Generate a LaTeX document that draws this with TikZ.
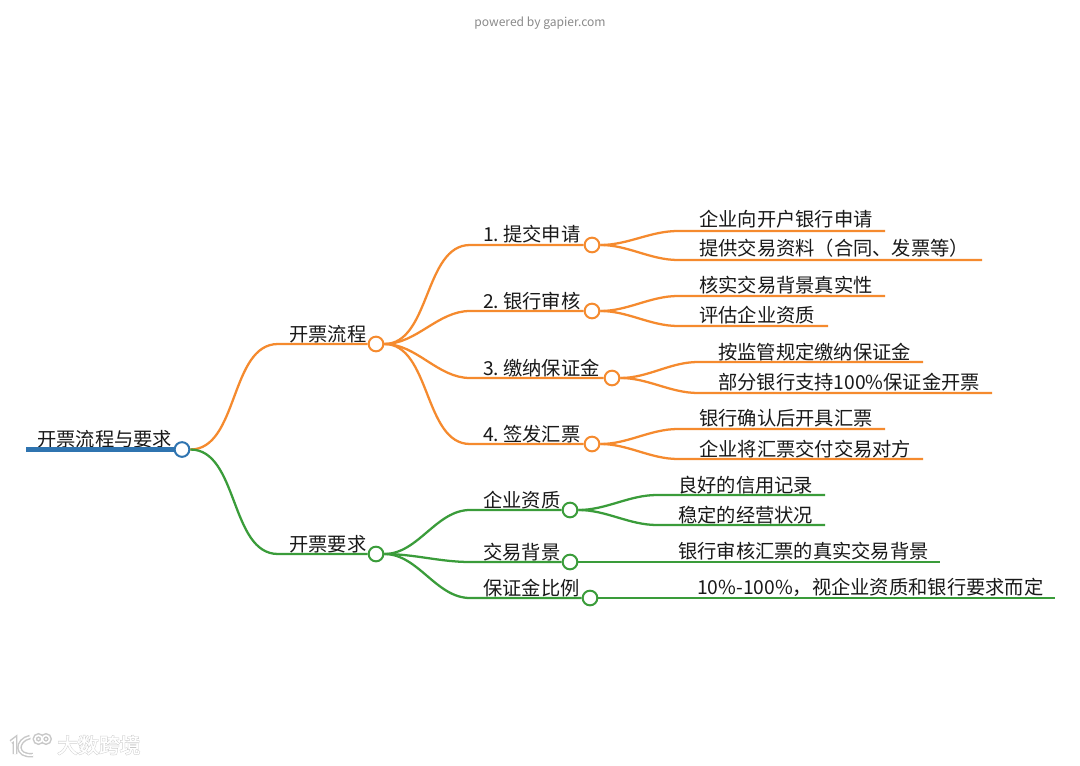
\documentclass[tikz,border=0pt]{standalone}
\usepackage{fontspec}
\setmainfont{Noto Sans CJK SC}
\newfontfamily\markfont[FakeBold=5]{Noto Sans CJK SC}
\newfontfamily\markinner[FakeBold=1]{Noto Sans CJK SC}
\definecolor{rootblue}{HTML}{2F74B0}
\definecolor{flowline}{HTML}{F58A2E}
\definecolor{needline}{HTML}{3A9C3A}
\definecolor{markgrey}{HTML}{C8C8C8}
\definecolor{powergrey}{HTML}{8A8A8A}

\begin{document}
\begin{tikzpicture}[
  x=0.75pt, y=-0.75pt,
  knob/.style={draw, circle, fill=white, minimum size=11pt, inner sep=0pt, line width=1.5pt},
  label/.style={anchor=base west, inner sep=0pt, font=\fontsize{14.45pt}{16pt}\selectfont, text=black!90},
  flow/.style={draw=flowline, line width=1.7pt},
  need/.style={draw=needline, line width=1.7pt},
  branch/.style={out=0, in=180, looseness=0.9},
]
  \useasboundingbox (0,0) rectangle (1080,766);
  \fill[white] (0,0) rectangle (1080,766);

  \node[anchor=center, inner sep=0pt, font=\fontsize{9.05pt}{12pt}\selectfont, text=powergrey] (power) at (540,23) {powered by gapier.com};

  % root
  \node[label] (roottext) at (37,446) {开票流程与要求};
  \coordinate (rootstart) at (26,449.5);
  \node[knob, draw=rootblue] (root) at (182,449.5) {};
  \draw[rootblue, line width=3.8pt] (rootstart) -- (root.west);

  % main branches
  \node[label] (flowtext) at (289,341) {开票流程};
  \node[knob, draw=flowline] (flow) at (376,344) {};
  \coordinate (flowbend) at (278,344);
  \draw[flow] (root.east) to[branch] (flowbend) -- (flow.west);

  \node[label] (needtext) at (289,551) {开票要求};
  \node[knob, draw=needline] (need) at (376,554) {};
  \coordinate (needbend) at (278,554);
  \draw[need] (root.east) to[branch] (needbend) -- (need.west);

  % invoice steps
  \node[label] (subtext) at (483,242) {1.\hspace{3pt}提交申请};
  \node[knob, draw=flowline] (sub) at (592,245) {};
  \coordinate (subbend) at (470,245);
  \draw[flow] (flow.east) to[branch] (subbend) -- (sub.west);

  \node[label] (revtext) at (483,308) {2.\hspace{3pt}银行审核};
  \node[knob, draw=flowline] (rev) at (592,311) {};
  \coordinate (revbend) at (470,311);
  \draw[flow] (flow.east) to[branch] (revbend) -- (rev.west);

  \node[label] (paytext) at (483,375) {3.\hspace{3pt}缴纳保证金};
  \node[knob, draw=flowline] (pay) at (612,378) {};
  \coordinate (paybend) at (470,378);
  \draw[flow] (flow.east) to[branch] (paybend) -- (pay.west);

  \node[label] (signtext) at (483,441) {4.\hspace{3pt}签发汇票};
  \node[knob, draw=flowline] (sign) at (592,444) {};
  \coordinate (signbend) at (470,444);
  \draw[flow] (flow.east) to[branch] (signbend) -- (sign.west);

  % requirement groups
  \node[label] (firmtext) at (483,507) {企业资质};
  \node[knob, draw=needline] (firm) at (570,510) {};
  \coordinate (firmbend) at (470,510);
  \draw[need] (need.east) to[branch] (firmbend) -- (firm.west);

  \node[label] (tradetext) at (483,559) {交易背景};
  \node[knob, draw=needline] (trade) at (570,562) {};
  \coordinate (tradebend) at (470,562);
  \draw[need] (need.east) to[branch] (tradebend) -- (trade.west);

  \node[label] (ratiotext) at (483,595) {保证金比例};
  \node[knob, draw=needline] (ratio) at (590,598) {};
  \coordinate (ratiobend) at (470,598);
  \draw[need] (need.east) to[branch] (ratiobend) -- (ratio.west);

  % leaves of the steps
  \node[label] (subatext) at (699,227) {企业向开户银行申请};
  \coordinate (subabend) at (678,231);
  \coordinate (subaend) at (885,231);
  \draw[flow] (sub.east) to[branch] (subabend) -- (subaend);
  \node[label] (subbtext) at (699,256) {提供交易资料（合同、发票等）};
  \coordinate (subbbend) at (678,260);
  \coordinate (subbend2) at (982,260);
  \draw[flow] (sub.east) to[branch] (subbbend) -- (subbend2);

  \node[label] (revatext) at (699,292) {核实交易背景真实性};
  \coordinate (revabend) at (678,296);
  \coordinate (revaend) at (885,296);
  \draw[flow] (rev.east) to[branch] (revabend) -- (revaend);
  \node[label] (revbtext) at (699,322) {评估企业资质};
  \coordinate (revbbend) at (678,326);
  \coordinate (revbend2) at (828,326);
  \draw[flow] (rev.east) to[branch] (revbbend) -- (revbend2);

  \node[label] (payatext) at (718,359) {按监管规定缴纳保证金};
  \coordinate (payabend) at (698,362);
  \coordinate (payaend) at (923,362);
  \draw[flow] (pay.east) to[branch] (payabend) -- (payaend);
  \node[label] (paybtext) at (718,389) {部分银行支持100\%保证金开票};
  \coordinate (paybbend) at (698,393);
  \coordinate (paybend2) at (992,393);
  \draw[flow] (pay.east) to[branch] (paybbend) -- (paybend2);

  \node[label] (signatext) at (699,425) {银行确认后开具汇票};
  \coordinate (signabend) at (678,429);
  \coordinate (signaend) at (885,429);
  \draw[flow] (sign.east) to[branch] (signabend) -- (signaend);
  \node[label] (signbtext) at (699,456) {企业将汇票交付交易对方};
  \coordinate (signbbend) at (678,459);
  \coordinate (signbend2) at (923,459);
  \draw[flow] (sign.east) to[branch] (signbbend) -- (signbend2);

  % leaves of the requirements
  \node[label] (firmatext) at (678,492) {良好的信用记录};
  \coordinate (firmabend) at (657,495);
  \coordinate (firmaend) at (825,495);
  \draw[need] (firm.east) to[branch] (firmabend) -- (firmaend);
  \node[label] (firmbtext) at (678,522) {稳定的经营状况};
  \coordinate (firmbbend) at (657,525);
  \coordinate (firmbend2) at (825,525);
  \draw[need] (firm.east) to[branch] (firmbbend) -- (firmbend2);

  \node[label] (tradeatext) at (678,558) {银行审核汇票的真实交易背景};
  \coordinate (tradeaend) at (940,562);
  \draw[need] (trade.east) -- (tradeaend);

  \node[label] (ratioatext) at (697,594) {10\%-100\%，视企业资质和银行要求而定};
  \coordinate (ratioaend) at (1055,598);
  \draw[need] (ratio.east) -- (ratioaend);

  % watermark
  \node[anchor=base west, inner sep=0pt, font=\markfont\fontsize{15.6pt}{18pt}\selectfont, text=markgrey] (markhalo) at (57,753) {大数跨境};
  \node[anchor=base west, inner sep=0pt, font=\markinner\fontsize{15.6pt}{18pt}\selectfont, text=white] (marktext) at (57,753) {大数跨境};
  \foreach \w/\c in {3.4pt/markgrey, 1.2pt/white} {
    \draw[\c, line width=\w] (11,742) -- (15,739) -- (15,754);
    \draw[\c, line width=\w] (30,737) .. controls (16,740) and (15,757) .. (33,755);
    \draw[\c, line width=\w] (38.5,739) circle (3.6);
    \draw[\c, line width=\w] (46,739) circle (3.6);
  }
\end{tikzpicture}
\end{document}
